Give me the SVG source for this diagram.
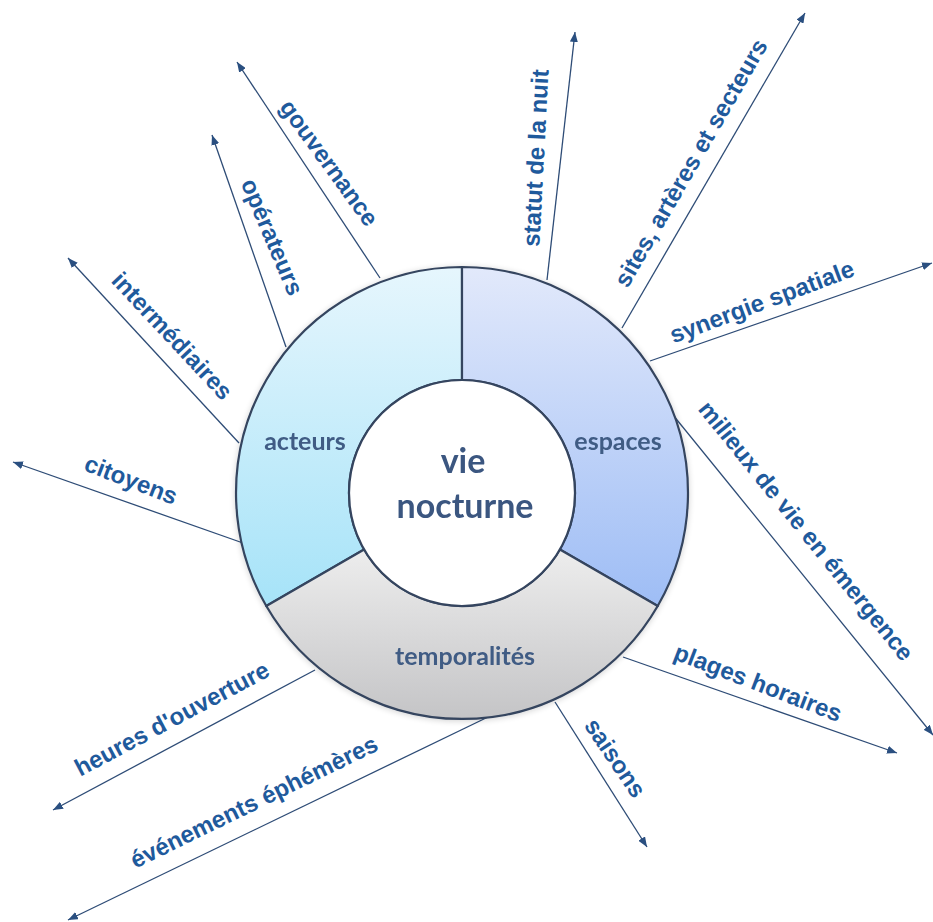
<svg xmlns="http://www.w3.org/2000/svg" width="933" height="922" viewBox="0 0 933 922">
  <style>
    .link { fill: none; stroke: #2e4c76; stroke-width: 1.3; marker-end: url(#tip); }
    .lbl { font-family: "Liberation Sans", Arial, sans-serif; font-weight: bold; font-size: 24px; fill: #1f5a9c; text-anchor: middle; }
    .seg { stroke: #34445e; stroke-width: 2.2; stroke-linejoin: round; }
    .segtxt { font-family: Lato, "Open Sans", sans-serif; font-weight: bold; font-size: 25px; fill: #3f5b84; text-anchor: middle; }
    .core { font-family: Lato, "Open Sans", sans-serif; font-weight: bold; font-size: 34px; fill: #3a5680; text-anchor: middle; }
  </style>
  <defs>
    <marker id="tip" viewBox="0 0 10 8" refX="10" refY="4" markerWidth="10" markerHeight="8" markerUnits="userSpaceOnUse" orient="auto">
      <path d="M0,0 L10,4 L0,8 Z" fill="#2a4f80"/>
    </marker>
    <linearGradient id="gActeurs" gradientUnits="userSpaceOnUse" x1="0" y1="267" x2="0" y2="606">
      <stop offset="0" stop-color="#e6f6fd"/>
      <stop offset="1" stop-color="#a6e3f8"/>
    </linearGradient>
    <linearGradient id="gEspaces" gradientUnits="userSpaceOnUse" x1="0" y1="267" x2="0" y2="606">
      <stop offset="0" stop-color="#e2e9fb"/>
      <stop offset="1" stop-color="#9ebdf5"/>
    </linearGradient>
    <linearGradient id="gTemps" gradientUnits="userSpaceOnUse" x1="0" y1="550" x2="0" y2="720">
      <stop offset="0" stop-color="#ededed"/>
      <stop offset="1" stop-color="#c4c4c6"/>
    </linearGradient>
    <filter id="soft" x="-10%" y="-10%" width="120%" height="120%">
      <feGaussianBlur in="SourceAlpha" stdDeviation="3"/>
      <feOffset dx="0" dy="1"/>
      <feComponentTransfer><feFuncA type="linear" slope="0.18"/></feComponentTransfer>
      <feMerge><feMergeNode/><feMergeNode in="SourceGraphic"/></feMerge>
    </filter>
  </defs>

  <rect width="933" height="922" fill="#ffffff"/>

  <!-- connectors radiating from the ring -->
  <g id="connectors">
    <line class="link" x1="380" y1="278" x2="237" y2="62"/>
    <line class="link" x1="286" y1="347" x2="212" y2="135"/>
    <line class="link" x1="239" y1="443" x2="68" y2="258"/>
    <line class="link" x1="243" y1="543" x2="13" y2="462"/>
    <line class="link" x1="547" y1="280" x2="575" y2="32"/>
    <line class="link" x1="622" y1="328" x2="805" y2="13"/>
    <line class="link" x1="650" y1="361" x2="932" y2="263"/>
    <line class="link" x1="673" y1="415" x2="933" y2="735"/>
    <line class="link" x1="623" y1="657" x2="897" y2="753"/>
    <line class="link" x1="555" y1="702" x2="647" y2="847"/>
    <line class="link" x1="315" y1="670" x2="53" y2="810"/>
    <line class="link" x1="488" y1="717" x2="68" y2="920"/>
  </g>

  <!-- ring of three sectors around the core -->
  <g id="ring" filter="url(#soft)">
    <g id="acteurs">
      <path class="seg" fill="url(#gActeurs)" d="M266.3,606 A226,226 0 0 1 462,267 L462,380 A113,113 0 0 0 364.1,549.5 Z"/>
      <text class="segtxt" x="305" y="450">acteurs</text>
    </g>
    <g id="espaces">
      <path class="seg" fill="url(#gEspaces)" d="M462,267 A226,226 0 0 1 657.7,606 L559.9,549.5 A113,113 0 0 0 462,380 Z"/>
      <text class="segtxt" x="618" y="450">espaces</text>
    </g>
    <g id="temporalites">
      <path class="seg" fill="url(#gTemps)" d="M657.7,606 A226,226 0 0 1 266.3,606 L364.1,549.5 A113,113 0 0 0 559.9,549.5 Z"/>
      <text class="segtxt" x="465" y="665">temporalités</text>
    </g>
    <g id="vie-nocturne">
      <circle class="seg" cx="462" cy="493" r="113" fill="#ffffff"/>
      <text class="core" x="463" y="473">vie</text>
      <text class="core" x="465" y="518">nocturne</text>
    </g>
  </g>

  <!-- outer labels -->
  <g id="gouvernance"><text class="lbl" dy="8" transform="translate(329,163) rotate(54)">gouvernance</text></g>
  <g id="operateurs"><text class="lbl" dy="8" transform="translate(272,237) rotate(67)">opérateurs</text></g>
  <g id="intermediaires"><text class="lbl" dy="8" transform="translate(172,336) rotate(47)">intermédiaires</text></g>
  <g id="citoyens"><text class="lbl" dy="8" transform="translate(131,480) rotate(21)">citoyens</text></g>
  <g id="statut"><text class="lbl" dy="8" transform="translate(536,158) rotate(-87)">statut de la nuit</text></g>
  <g id="sites"><text class="lbl" dy="8" transform="translate(691,163) rotate(-60)">sites, artères et secteurs</text></g>
  <g id="synergie"><text class="lbl" dy="8" transform="translate(762,302) rotate(-20.5)">synergie spatiale</text></g>
  <g id="milieux"><text class="lbl" dy="8" transform="translate(806,531) rotate(51)">milieux de vie en émergence</text></g>
  <g id="plages"><text class="lbl" dy="8" transform="translate(758,683) rotate(21)">plages horaires</text></g>
  <g id="saisons"><text class="lbl" dy="8" transform="translate(615,758) rotate(56)">saisons</text></g>
  <g id="heures"><text class="lbl" dy="8" transform="translate(172,719) rotate(-28)">heures d'ouverture</text></g>
  <g id="evenements"><text class="lbl" dy="8" transform="translate(254,802) rotate(-26)">événements éphémères</text></g>
</svg>
